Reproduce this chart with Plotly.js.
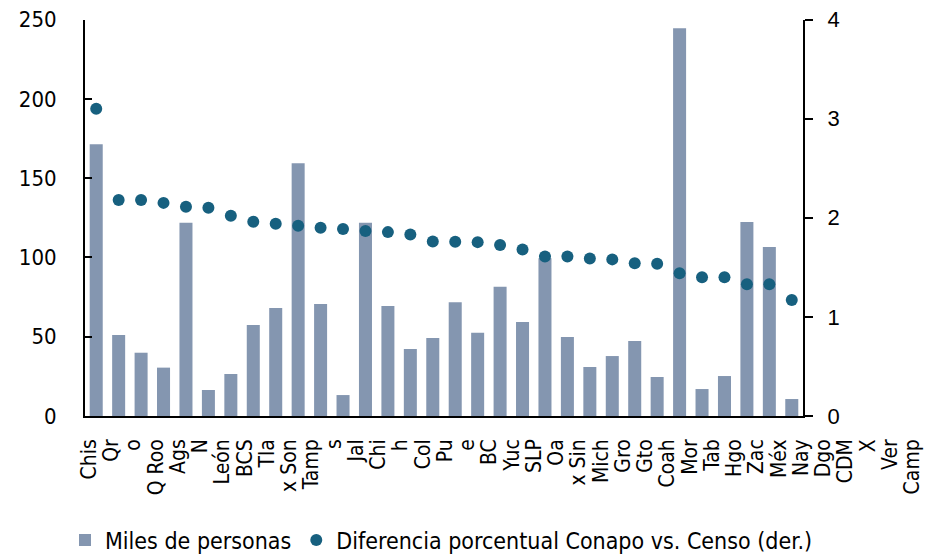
<!DOCTYPE html>
<html>
<head>
<meta charset="utf-8">
<script src="https://cdn.plot.ly/plotly-3.0.1.min.js"></script>
<style>body{margin:0;padding:0;background:#fff}#chart{width:928px;height:555px}</style>
</head>
<body>
<div id="chart"></div>
<script>
// Tick labels exactly as they appear in the picture (38 entries)
const tickLabels = ["Chis","Qr","o","Q Roo","Ags","N","León","BCS","Tla","x Son","Tamp","s","Jal","Chi","h","Col","Pu","e","BC","Yuc","SLP","Oa","x Sin","Mich","Gro","Gto","Coah","Mor","Tab","Hgo","Zac","Méx","Nay","Dgo","CDM","X","Ver","Camp"];
// 32 plotted categories (bar/dot slots)
const categories = tickLabels.slice(0, 32);
// Miles de personas (left axis)
const milesPersonas = [171.4,51.0,39.9,30.5,121.8,16.4,26.5,57.3,68.1,159.4,70.6,13.2,121.8,69.3,42.2,49.2,71.8,52.5,81.5,59.2,99.4,49.8,30.9,37.8,47.3,24.6,244.5,17.0,25.2,122.3,106.5,10.7];
// Diferencia porcentual Conapo vs. Censo (right axis)
const difPorcentual = [3.10,2.18,2.18,2.15,2.11,2.10,2.02,1.96,1.94,1.92,1.90,1.886,1.866,1.855,1.83,1.76,1.758,1.754,1.724,1.68,1.61,1.61,1.59,1.58,1.54,1.535,1.44,1.40,1.40,1.33,1.33,1.17];

const W = 928, H = 555;
const px = v => v / W, py = v => 1 - v / H;
const condensed = "DejaVu Sans Condensed, DejaVu Sans, sans-serif";

const traces = [
  {type:'bar', name:'Miles de personas', x:categories, y:milesPersonas,
   marker:{color:'#8496B0'}, width:0.58, xaxis:'x', yaxis:'y', hoverinfo:'skip'},
  {type:'scatter', mode:'markers', name:'Diferencia porcentual Conapo vs. Censo (der.)',
   x:categories, y:difPorcentual, marker:{color:'#17607F', size:12},
   xaxis:'x', yaxis:'y2', hoverinfo:'skip'},
  {type:'scatter', mode:'markers', x:tickLabels, y:tickLabels.map(()=>null),
   xaxis:'x2', yaxis:'y3', showlegend:false, hoverinfo:'skip'}
];

const yDom = [py(416), py(19.5)];
const spacing = 22.25, firstLabel = 89;
const layout = {
  width:W, height:H,
  margin:{l:0, r:0, t:0, b:0, autoexpand:false},
  paper_bgcolor:'#fff', plot_bgcolor:'rgba(0,0,0,0)',
  showlegend:true,
  xaxis:{domain:[px(85), px(803)], range:[-0.5, 31.5], type:'category',
         showticklabels:false, ticks:'', showline:true, linecolor:'#000', linewidth:2,
         showgrid:false, zeroline:false, fixedrange:true, automargin:false},
  yaxis:{domain:yDom, range:[0,250], dtick:50, ticks:'inside', ticklen:7, tickwidth:2,
         tickcolor:'#000', showline:true, linecolor:'#000', linewidth:2, showgrid:false,
         zeroline:false, tickfont:{family:condensed, size:22, color:'#000'},
         ticklabelstandoff:22, automargin:false},
  yaxis2:{overlaying:'y', side:'right', anchor:'x', range:[0,4], dtick:1, ticks:'outside',
          ticklen:8, tickwidth:2, tickcolor:'#000', showline:true, linecolor:'#000',
          linewidth:2, showgrid:false, zeroline:false, automargin:false,
          tickfont:{family:'Liberation Sans, Arial, sans-serif', size:22, color:'#000'},
          ticklabelstandoff:10},
  xaxis2:{domain:[0,1], anchor:'y3', type:'category',
          range:[-firstLabel/spacing, (W-firstLabel)/spacing],
          tickmode:'linear', tick0:0, dtick:1,
          tickangle:-90, ticks:'', showline:false, showgrid:false, zeroline:false,
          automargin:false,
          tickfont:{family:condensed, size:21, color:'#000'}, ticklabelstandoff:18},
  yaxis3:{domain:yDom, anchor:'x2', visible:false, range:[0,1]},
  legend:{orientation:'h', xref:'container', yref:'container', x:px(65), xanchor:'left',
          y:py(540), yanchor:'middle',
          font:{family:condensed, size:23, color:'#000'}, bgcolor:'rgba(0,0,0,0)',
          itemwidth:30, tracegroupgap:0}
};

Plotly.newPlot('chart', traces, layout, {staticPlot:true, displayModeBar:false});
</script>
</body>
</html>
